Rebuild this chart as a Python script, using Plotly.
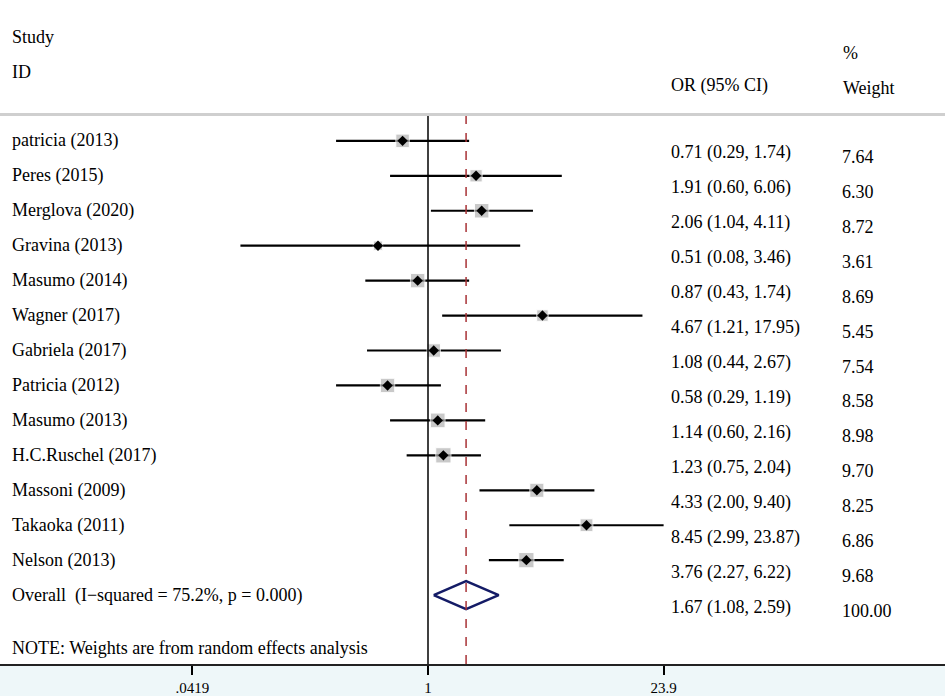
import numpy as np
import plotly.graph_objects as go

# Forest plot data
studies = ["patricia (2013)", "Peres (2015)", "Merglova (2020)", "Gravina (2013)",
           "Masumo (2014)", "Wagner (2017)", "Gabriela (2017)", "Patricia (2012)",
           "Masumo (2013)", "H.C.Ruschel (2017)", "Massoni (2009)", "Takaoka (2011)",
           "Nelson (2013)"]
odds = [0.71, 1.91, 2.06, 0.51, 0.87, 4.67, 1.08, 0.58, 1.14, 1.23, 4.33, 8.45, 3.76]
ci_low = [0.29, 0.60, 1.04, 0.08, 0.43, 1.21, 0.44, 0.29, 0.60, 0.75, 2.00, 2.99, 2.27]
ci_high = [1.74, 6.06, 4.11, 3.46, 1.74, 17.95, 2.67, 1.19, 2.16, 2.04, 9.40, 23.87, 6.22]
weights = [7.64, 6.30, 8.72, 3.61, 8.69, 5.45, 7.54, 8.58, 8.98, 9.70, 8.25, 6.86, 9.68]

overall_label = "Overall  (I\u2212squared = 75.2%, p = 0.000)"
overall_or, overall_lo, overall_hi, overall_w = 1.67, 1.08, 2.59, 100.00

tick_vals = [0.0419, 1, 23.9]
tick_text = [".0419", "1", "23.9"]

W, H = 945, 696
PLOT_H = 667          # bottom of plot area (axis line)
SEP_Y = 115           # header separator line, px from top
ROW0, ROW_STEP = 141.5, 35.1
FONT = "Liberation Serif"


def paper_y(px):
    return 1 - px / PLOT_H


rows = list(range(len(studies)))
overall_row = len(studies)

fig = go.Figure()

# confidence intervals
for i in rows:
    fig.add_trace(go.Scatter(x=[ci_low[i], ci_high[i]], y=[i, i], mode="lines",
                             line=dict(color="black", width=2.2), hoverinfo="skip"))

# weight boxes
fig.add_trace(go.Scatter(x=odds, y=rows, mode="markers",
                         marker=dict(symbol="square", color="#b3b3b3",
                                     size=[4.9 * np.sqrt(w) for w in weights]),
                         hoverinfo="skip"))
# point estimates
fig.add_trace(go.Scatter(x=odds, y=rows, mode="markers",
                         marker=dict(symbol="diamond", color="black", size=8),
                         hoverinfo="skip"))

# pooled diamond
fig.add_trace(go.Scatter(
    x=[overall_lo, overall_or, overall_hi, overall_or, overall_lo],
    y=[overall_row, overall_row - 0.4, overall_row, overall_row + 0.4, overall_row],
    mode="lines", line=dict(color="#141b66", width=2.5), hoverinfo="skip"))

# reference lines
fig.add_shape(type="line", xref="x", yref="paper", x0=1, x1=1,
              y0=0, y1=paper_y(SEP_Y), line=dict(color="black", width=1.5))
fig.add_shape(type="line", xref="x", yref="paper", x0=overall_or, x1=overall_or,
              y0=0, y1=paper_y(SEP_Y), line=dict(color="#a83236", width=1.5, dash="dash"))
fig.add_shape(type="line", xref="paper", yref="paper", x0=0, x1=1,
              y0=paper_y(SEP_Y), y1=paper_y(SEP_Y), line=dict(color="#cfcfcf", width=3))

txt = dict(family=FONT, size=18, color="black")


def label(x, y, text, yref="paper", yshift=0):
    fig.add_annotation(x=x, y=y, xref="paper", yref=yref, text=text, showarrow=False,
                       xanchor="left", yanchor="middle", font=txt, yshift=yshift)


# headers
label(10 / W, paper_y(37), "Study")
label(10 / W, paper_y(72), "ID")
label(669 / W, paper_y(86), "OR (95% CI)")
label(841 / W, paper_y(53), "%")
label(841 / W, paper_y(88), "Weight")

# rows
for i in rows:
    label(10 / W, i, studies[i], yref="y")
    label(669 / W, i, f"{odds[i]:.2f} ({ci_low[i]:.2f}, {ci_high[i]:.2f})", yref="y", yshift=-12)
    label(840 / W, i, f"{weights[i]:.2f}", yref="y", yshift=-16)

label(10 / W, overall_row, overall_label, yref="y")
label(669 / W, overall_row, f"{overall_or:.2f} ({overall_lo:.2f}, {overall_hi:.2f})",
      yref="y", yshift=-12)
label(840 / W, overall_row, f"{overall_w:.2f}", yref="y", yshift=-16)

label(10 / W, paper_y(651), "NOTE: Weights are from random effects analysis")

# log axis so that x=1 sits at 428px, 171px per decade
px_per_dec = 171
x_left = -428 / px_per_dec
x_right = (W - 428) / px_per_dec

fig.update_layout(
    width=W, height=H,
    margin=dict(l=0, r=0, t=0, b=H - PLOT_H),
    showlegend=False,
    plot_bgcolor="white",
    paper_bgcolor="#eef7f9",
    xaxis=dict(type="log", range=[x_left, x_right], showgrid=False, zeroline=False,
               tickvals=tick_vals, ticktext=tick_text, ticks="outside", ticklen=9,
               tickwidth=2, tickcolor="black", showline=True, linecolor="#222",
               linewidth=2, tickfont=dict(family=FONT, size=15, color="black")),
    yaxis=dict(range=[(PLOT_H - ROW0) / ROW_STEP, -ROW0 / ROW_STEP], visible=False,
               showgrid=False, zeroline=False),
)

# drop the default page margin so the figure fills the window
fig.write_html("out.html", config={"displayModeBar": False},
               post_script="document.body.style.margin='0';")
